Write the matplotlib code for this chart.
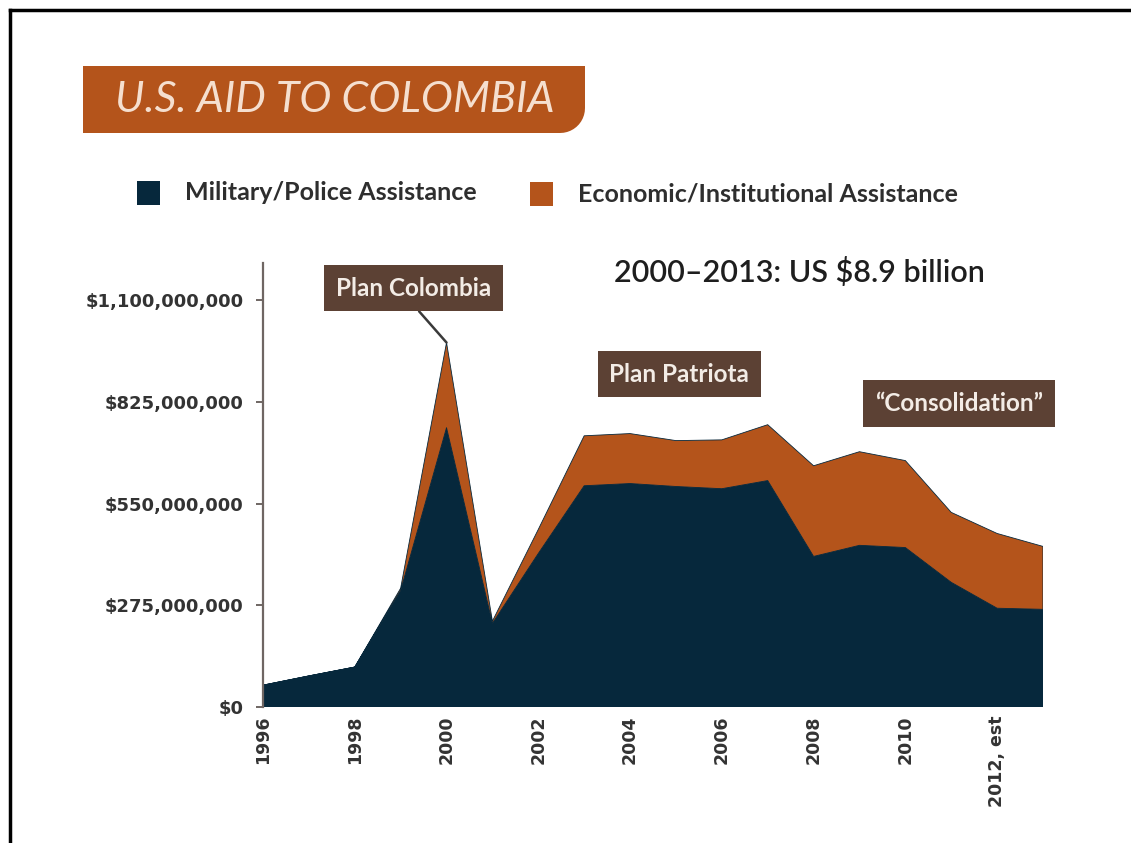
import numpy as np
import matplotlib
matplotlib.use("Agg")
import matplotlib.pyplot as plt
from matplotlib.patches import Rectangle, PathPatch
from matplotlib.path import Path
from matplotlib.lines import Line2D
from matplotlib.ticker import FuncFormatter

#==============================================================================
# data, US dollars per fiscal year
years = [1996, 1997, 1998, 1999, 2000, 2001, 2002, 2003, 2004, 2005, 2006,
         2007, 2008, 2009, 2010, 2011, 2012, 2013]
military = [59e6, 84e6, 108e6, 315e6, 755e6, 226e6, 415e6, 598e6, 604e6,
            596e6, 590e6, 612e6, 407e6, 437e6, 431e6, 337e6, 267e6, 264e6]
economic = [0, 0, 0, 6e6, 230e6, 6e6, 65e6, 135e6, 135e6, 124e6, 132e6,
            151e6, 245e6, 253e6, 235e6, 189e6, 202e6, 170e6]

y_ticks = [0, 275e6, 550e6, 825e6, 1100e6]
x_ticks = [1996, 1998, 2000, 2002, 2004, 2006, 2008, 2010, 2012]
x_labels = ["1996", "1998", "2000", "2002", "2004", "2006", "2008", "2010",
            "2012, est"]

phases = [("Plan Colombia", 1999.28, 1132e6),
          ("Plan Patriota", 2005.07, 900e6),
          ("\u201cConsolidation\u201d", 2011.17, 820e6)]
#==============================================================================

NAVY = "#06283c"
ORANGE = "#b4541b"
BROWN = "#5c4134"
TEXT = "#2e2e2e"
FONT = "Lato"
TICKFONT = "DejaVu Sans"

W, H = 1131, 843
fig = plt.figure(figsize=(W / 100, H / 100), dpi=100)
fig.patch.set_facecolor("white")


def fx(x):
    return x / W


def fy(y):
    return 1 - y / H


#==============================================================================
# stacked area chart
ax = fig.add_axes([fx(263), fy(707), fx(1043) - fx(263), fy(263) - fy(707)])
ax.stackplot(years, military, economic, colors=[NAVY, ORANGE],
             linewidth=0.6, edgecolor=[NAVY, "#8a3f12"])
ax.set_xlim(1996, 2013)
ax.set_ylim(0, 1.2e9)

for side in ["top", "right", "bottom"]:
    ax.spines[side].set_visible(False)
ax.spines["left"].set_color("#6f6663")
ax.spines["left"].set_linewidth(1.6)

ax.set_yticks(y_ticks)
ax.yaxis.set_major_formatter(FuncFormatter(lambda v, p: "${:,.0f}".format(v)))
ax.tick_params(axis="y", length=5, width=1.4, color="#6f6663", pad=9,
               labelsize=13, labelcolor="#333333")
ax.set_xticks(x_ticks)
ax.set_xticklabels(x_labels, rotation=90)
ax.tick_params(axis="x", length=0, pad=6, labelsize=12.5,
               labelcolor="#333333")
for lab in ax.get_xticklabels() + ax.get_yticklabels():
    lab.set_fontfamily(TICKFONT)
    lab.set_fontweight("bold")

# phase call-outs
total_2000 = military[years.index(2000)] + economic[years.index(2000)]
for name, x, y in phases:
    box = dict(boxstyle="square,pad=0.48", fc=BROWN, ec="none")
    if name == "Plan Colombia":
        ax.annotate(name, xy=(2000, total_2000), xytext=(x, y),
                    ha="center", va="center", fontsize=17.5,
                    fontweight="bold", family=FONT, color="#f3ece6",
                    bbox=box,
                    arrowprops=dict(arrowstyle="-", color="#3a3a3a", lw=1.8,
                                    relpos=(0.47, 0), shrinkA=0, shrinkB=0),
                    annotation_clip=False)
    else:
        ax.text(x, y, name, ha="center", va="center", fontsize=17.5,
                fontweight="bold", family=FONT, color="#f3ece6", bbox=box)
#==============================================================================

#==============================================================================
# title banner with a rounded lower right corner
x0, x1, y0, y1, r = fx(83), fx(585), fy(133), fy(66), 0.022
ry = r * W / H
arc = np.linspace(-np.pi / 2, 0, 12)
verts = [(x0, y1), (x0, y0), (x1 - r, y0)]
verts += [(x1 - r + r * np.cos(a), y0 + ry + ry * np.sin(a)) for a in arc]
verts += [(x1, y1), (x0, y1)]
banner = PathPatch(Path(verts), transform=fig.transFigure, fc=ORANGE,
                   ec="none")
fig.add_artist(banner)
fig.text(fx(115), fy(100), "U.S. AID TO COLOMBIA", ha="left", va="center",
         fontsize=31, family=FONT, fontweight="normal", style="italic",
         color="#f5dfcf")

# legend
fig.add_artist(Rectangle((fx(137), fy(205)), fx(23), fy(181) - fy(205),
                         transform=fig.transFigure, fc=NAVY, ec="none"))
fig.text(fx(185), fy(193), "Military/Police Assistance", ha="left",
         va="center", fontsize=18, family=FONT, fontweight="bold", color=TEXT)
fig.add_artist(Rectangle((fx(530), fy(206)), fx(23), fy(182) - fy(206),
                         transform=fig.transFigure, fc=ORANGE, ec="none"))
fig.text(fx(578), fy(194), "Economic/Institutional Assistance", ha="left",
         va="center", fontsize=18, family=FONT, fontweight="bold", color=TEXT)

fig.text(fx(614), fy(272), "2000\u20132013: US $8.9 billion", ha="left",
         va="center", fontsize=22, family=FONT, fontweight="semibold",
         color="#1e1e1e")

# page frame
fig.add_artist(Line2D([fx(10), 1], [fy(10), fy(10)], color="black", lw=2.5,
                      transform=fig.transFigure))
fig.add_artist(Line2D([fx(10), fx(10)], [fy(10), 0], color="black", lw=2.5,
                      transform=fig.transFigure))
#==============================================================================

fig.savefig("out.png", dpi=100)
